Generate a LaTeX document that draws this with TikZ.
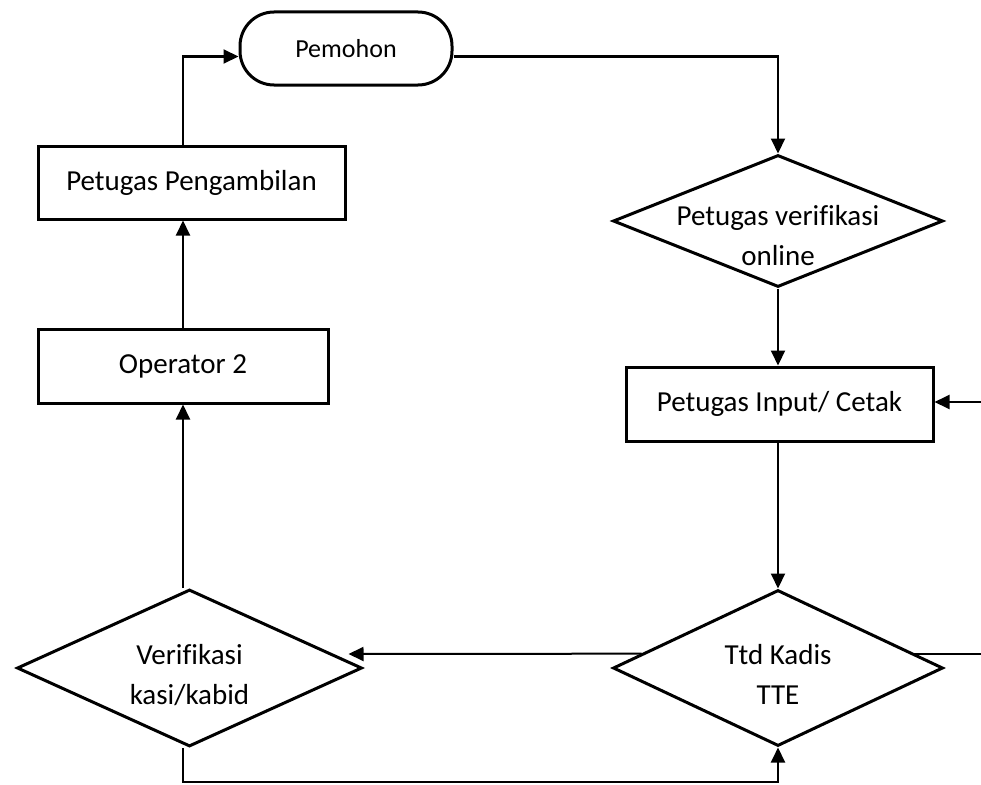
\documentclass[tikz,border=0pt]{standalone}
\usepackage{fontspec}
\setmainfont{Carlito}[Ligatures=NoCommon]
\usetikzlibrary{shapes.geometric,arrows.meta,calc}
\tikzset{
	box/.style={draw, line width=3pt, inner sep=0pt, font=\fontsize{29}{40}\selectfont},
	decision/.style={diamond, draw, line width=3pt, inner sep=0pt},
	dtext/.style={align=center, inner sep=0pt, font=\fontsize{29}{40}\selectfont},
	line/.style={line width=2pt},
	arr/.style={line, -{Triangle[length=15pt,width=14pt]}}
}

\begin{document}
\begin{tikzpicture}[x=1pt,y=-1pt]
			\useasboundingbox (0,0) rectangle (981,784);
			\node[box, rounded corners=34pt, minimum width=212pt, minimum height=73pt, font=\fontsize{26}{30}\selectfont] (pemohon) at (346,48.5) {Pemohon};
			\node[box, minimum width=307pt, minimum height=73pt] (ambil) at (191.5,182.5) {Petugas Pengambilan};
			\node[box, minimum width=290pt, minimum height=74pt] (op2) at (183,366) {Operator 2};
			\node[box, minimum width=307pt, minimum height=74pt] (input) at (779.5,404) {Petugas Input/ Cetak};
			\node[decision, minimum width=330pt, minimum height=132pt] (online) at (778,221) {};
			\node[decision, minimum width=345pt, minimum height=157pt] (verif) at (189.5,668) {};
			\node[decision, minimum width=330pt, minimum height=156pt] (ttd) at (778,668) {};
			\node[dtext] (onlinetxt) at ([yshift=-15pt]online.center) {Petugas verifikasi\\online};
			\node[dtext] (veriftxt) at ([yshift=-7pt]verif.center) {Verifikasi\\kasi/kabid};
			\node[dtext] (ttdtxt) at ([yshift=-6pt]ttd.center) {Ttd Kadis\\TTE};
			\coordinate (rin) at (981,402);
			\coordinate (rout) at (981,654);
			\coordinate (loop) at (183,782);
			\draw[arr] (op2.north |- ambil.north) |- ([yshift=-8pt]pemohon.west);
			\draw[arr] ([yshift=-8pt]pemohon.east) -| (online.north);
			\draw[arr] (op2.north) -- (op2.north |- ambil.south);
			\draw[arr] (op2.south |- verif.north) -- (op2.south);
			\draw[arr] (online.south) -- (online.south |- input.north);
			\draw[arr] (input.south -| ttd.north) -- (ttd.north);
			\draw[arr] (rin) -- (rin -| input.east);
			\draw[arr] (ttd.174) -- ([xshift=-15pt,yshift=14pt]verif.east);
			\draw[line] (ttd.6) -- (ttd.6 -| rout);
			\draw[arr] (op2.south |- verif.south) -- (loop) -| (ttd.south);
		\end{tikzpicture}
\end{document}
